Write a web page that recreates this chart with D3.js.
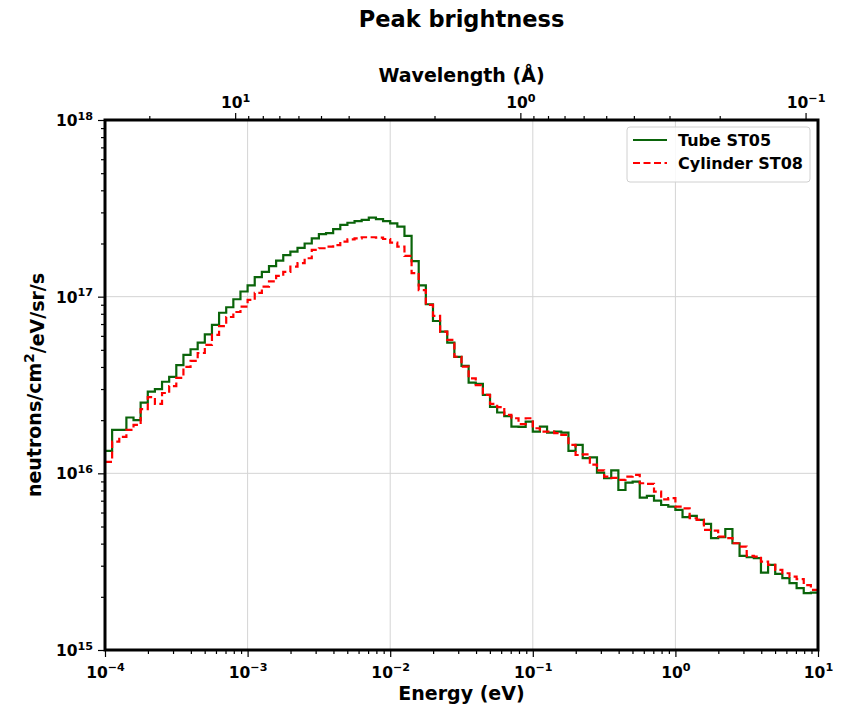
<!DOCTYPE html>
<html>
<head>
<meta charset="utf-8">
<script src="https://cdn.jsdelivr.net/npm/d3@7"></script>
<style>
  body { margin: 0; background: #fff; }
  text { font-family: "DejaVu Sans", sans-serif; font-weight: bold; fill: #000; }
</style>
</head>
<body>
<div id="chart"></div>
<script>
// Energy bins: 20 per decade from 1e-4 to 10 eV
const binsPerDecade = 20;
const eMin = 1e-4, eMax = 10;

// Tube ST05 brightness per bin (neutrons/cm2/eV/sr/s)
const tubeST05 = [
  1.34e16, 1.76e16, 1.76e16, 2.07e16, 2.00e16, 2.51e16, 2.90e16, 3.00e16, 3.30e16, 3.52e16,
  4.10e16, 4.68e16, 5.04e16, 5.50e16, 6.12e16, 6.92e16, 8.11e16, 8.71e16, 9.67e16, 1.07e17,
  1.16e17, 1.29e17, 1.38e17, 1.49e17, 1.60e17, 1.72e17, 1.80e17, 1.89e17, 2.00e17, 2.14e17,
  2.26e17, 2.29e17, 2.41e17, 2.55e17, 2.62e17, 2.68e17, 2.72e17, 2.80e17, 2.75e17, 2.68e17,
  2.60e17, 2.49e17, 2.21e17, 1.59e17, 1.16e17, 9.06e16, 7.28e16, 6.34e16, 5.50e16, 4.56e16,
  4.06e16, 3.26e16, 3.21e16, 2.78e16, 2.38e16, 2.21e16, 2.11e16, 1.84e16, 1.83e16, 1.96e16,
  1.72e16, 1.84e16, 1.70e16, 1.72e16, 1.70e16, 1.34e16, 1.45e16, 1.22e16, 1.23e16, 1.01e16,
  9.38e15, 1.04e16, 8.05e15, 8.86e15, 8.98e15, 7.28e15, 7.45e15, 7.00e15, 6.62e15, 6.48e15,
  6.21e15, 5.65e15, 5.74e15, 5.45e15, 5.18e15, 4.30e15, 4.35e15, 4.84e15, 4.02e15, 3.41e15,
  3.35e15, 3.31e15, 2.74e15, 3.03e15, 2.70e15, 2.55e15, 2.39e15, 2.24e15, 2.10e15, 2.11e15
];

// Cylinder ST08 brightness per bin
const cylinderST08 = [
  1.16e16, 1.51e16, 1.61e16, 1.76e16, 1.88e16, 2.31e16, 2.70e16, 2.47e16, 2.85e16, 3.12e16,
  3.47e16, 4.00e16, 4.33e16, 4.80e16, 5.33e16, 6.07e16, 6.82e16, 7.67e16, 8.19e16, 8.78e16,
  9.58e16, 1.05e17, 1.14e17, 1.22e17, 1.31e17, 1.38e17, 1.48e17, 1.55e17, 1.65e17, 1.84e17,
  1.88e17, 1.92e17, 1.96e17, 2.05e17, 2.11e17, 2.14e17, 2.17e17, 2.17e17, 2.16e17, 2.12e17,
  2.02e17, 1.92e17, 1.70e17, 1.36e17, 1.09e17, 8.98e16, 7.78e16, 6.34e16, 5.69e16, 4.57e16,
  4.02e16, 3.45e16, 3.16e16, 2.78e16, 2.47e16, 2.37e16, 2.14e16, 2.05e16, 1.90e16, 2.05e16,
  1.80e16, 1.72e16, 1.72e16, 1.69e16, 1.65e16, 1.45e16, 1.27e16, 1.28e16, 1.12e16, 1.04e16,
  9.58e15, 9.42e15, 9.18e15, 9.58e15, 9.80e15, 8.79e15, 8.71e15, 7.87e15, 7.13e15, 7.23e15,
  6.48e15, 6.34e15, 5.57e15, 5.45e15, 4.79e15, 4.74e15, 4.38e15, 4.30e15, 4.02e15, 3.85e15,
  3.41e15, 3.38e15, 3.16e15, 3.03e15, 2.84e15, 2.72e15, 2.60e15, 2.52e15, 2.33e15, 2.19e15
];

const seriesNames = ["Tube ST05", "Cylinder ST08"];
const energyTicks = [1e-4, 1e-3, 1e-2, 1e-1, 1, 10];
const brightTicks = [1e15, 1e16, 1e17, 1e18];
const wavelengthTicks = [10, 1, 0.1];

// lambda(A) = 0.28601 / sqrt(E[eV])
const lamOf = e => 0.28601 / Math.sqrt(e);

const W = 856, H = 706;
const margin = { left: 105, right: 38, top: 120, bottom: 56 };

const svg = d3.select('#chart').append('svg')
  .attr('width', W).attr('height', H);

const x = d3.scaleLog().domain([eMin, eMax]).range([margin.left, W - margin.right]);
const y = d3.scaleLog().domain([1e15, 1e18]).range([H - margin.bottom, margin.top]);
const xLam = d3.scaleLog().domain([lamOf(eMin), lamOf(eMax)]).range(x.range());

const x0 = x.range()[0], x1 = x.range()[1];
const y0 = y.range()[0], y1 = y.range()[1];

// minor ticks helper: 2..9 times each decade inside domain
function minorTicks(lo, hi) {
  const out = [];
  const a = Math.min(lo, hi), b = Math.max(lo, hi);
  for (let p = Math.floor(Math.log10(a)) - 1; p <= Math.ceil(Math.log10(b)); p++) {
    for (let m = 2; m <= 9; m++) {
      const v = m * Math.pow(10, p);
      if (v >= a && v <= b) out.push(v);
    }
  }
  return out;
}

// power-of-ten label with superscript
function powLabel(sel, v) {
  const p = Math.round(Math.log10(v));
  sel.text(null);
  sel.append('tspan').text('10');
  sel.append('tspan')
    .attr('dy', '-0.55em')
    .style('font-size', '0.72em')
    .text(p < 0 ? '\u2212' + Math.abs(p) : String(p));
}

// grid
const grid = svg.append('g').attr('stroke', '#d4d4d4').attr('stroke-width', 1);
grid.selectAll('.gx').data(energyTicks.slice(1, -1)).enter().append('line')
  .attr('x1', d => x(d)).attr('x2', d => x(d)).attr('y1', y1).attr('y2', y0);
grid.selectAll('.gy').data(brightTicks.slice(1, -1)).enter().append('line')
  .attr('x1', x0).attr('x2', x1).attr('y1', d => y(d)).attr('y2', d => y(d));

// step lines
const edges = d3.range(tubeST05.length + 1).map(k => eMin * Math.pow(10, k / binsPerDecade));
function stepPoints(vals) {
  const pts = vals.map((v, k) => [edges[k], v]);
  pts.push([edges[vals.length], vals[vals.length - 1]]);
  return pts;
}
const line = d3.line().x(d => x(d[0])).y(d => y(d[1])).curve(d3.curveStepAfter);

svg.append('path').datum(stepPoints(tubeST05))
  .attr('d', line).attr('fill', 'none')
  .attr('stroke', '#0a640a').attr('stroke-width', 2.2);
svg.append('path').datum(stepPoints(cylinderST08))
  .attr('d', line).attr('fill', 'none')
  .attr('stroke', '#ff0000').attr('stroke-width', 2.2)
  .attr('stroke-dasharray', '7,3.5');

// axes
const fs = '15.5px';
const bottomMinor = svg.append('g').attr('transform', `translate(0,${y0})`)
  .call(d3.axisBottom(x).tickValues(minorTicks(eMin, eMax)).tickSize(4).tickFormat(''));
const bottomMajor = svg.append('g').attr('transform', `translate(0,${y0})`)
  .call(d3.axisBottom(x).tickValues(energyTicks).tickSize(7).tickPadding(5));
bottomMajor.selectAll('text').style('font-size', fs).attr('dy', '1em').each(function(d) { powLabel(d3.select(this), d); });

const leftMinor = svg.append('g').attr('transform', `translate(${x0},0)`)
  .call(d3.axisLeft(y).tickValues(minorTicks(1e15, 1e18)).tickSize(4).tickFormat(''));
const leftMajor = svg.append('g').attr('transform', `translate(${x0},0)`)
  .call(d3.axisLeft(y).tickValues(brightTicks).tickSize(7).tickPadding(5));
leftMajor.selectAll('text').style('font-size', fs).attr('dy', '0.35em').each(function(d) { powLabel(d3.select(this), d); });

const topMinor = svg.append('g').attr('transform', `translate(0,${y1})`)
  .call(d3.axisTop(xLam).tickValues(minorTicks(lamOf(eMax), lamOf(eMin))).tickSize(4).tickFormat(''));
const topMajor = svg.append('g').attr('transform', `translate(0,${y1})`)
  .call(d3.axisTop(xLam).tickValues(wavelengthTicks).tickSize(7).tickPadding(5));
topMajor.selectAll('text').style('font-size', fs).each(function(d) { powLabel(d3.select(this), d); });

[bottomMinor, bottomMajor, leftMinor, leftMajor, topMinor, topMajor].forEach(g => {
  g.select('.domain').remove();
  g.selectAll('line').attr('stroke', '#000').attr('stroke-width', 1.2);
  g.selectAll('text').attr('fill', '#000').style('font-family', '"DejaVu Sans", sans-serif').style('font-weight', 'bold');
});

// frame
svg.append('rect')
  .attr('x', x0).attr('y', y1).attr('width', x1 - x0).attr('height', y0 - y1)
  .attr('fill', 'none').attr('stroke', '#000').attr('stroke-width', 3);

// titles
svg.append('text').attr('x', (x0 + x1) / 2).attr('y', 27)
  .attr('text-anchor', 'middle').style('font-size', '22.5px').text('Peak brightness');
svg.append('text').attr('x', (x0 + x1) / 2).attr('y', 82)
  .attr('text-anchor', 'middle').style('font-size', '19px').text('Wavelength (\u00c5)');
svg.append('text').attr('x', (x0 + x1) / 2).attr('y', 700)
  .attr('text-anchor', 'middle').style('font-size', '19px').text('Energy (eV)');

const ylab = svg.append('text')
  .attr('transform', `translate(41,${(y0 + y1) / 2}) rotate(-90)`)
  .attr('text-anchor', 'middle').style('font-size', '19px');
ylab.append('tspan').text('neutrons/cm');
ylab.append('tspan').attr('dy', '-0.5em').style('font-size', '0.72em').text('2');
ylab.append('tspan').attr('dy', '0.5em').text('/eV/sr/s');

// legend
const lg = svg.append('g').attr('transform', `translate(${x1 - 191},127)`);
lg.append('rect').attr('width', 183).attr('height', 55).attr('rx', 3)
  .attr('fill', '#fff').attr('fill-opacity', 0.85).attr('stroke', '#d0d0d0');
const legendStyles = [
  { color: '#0a640a', dash: null },
  { color: '#ff0000', dash: '7,3.5' }
];
seriesNames.forEach((name, i) => {
  const gy = 13 + i * 23;
  lg.append('line').attr('x1', 6).attr('x2', 40).attr('y1', gy).attr('y2', gy)
    .attr('stroke', legendStyles[i].color).attr('stroke-width', 2.2)
    .attr('stroke-dasharray', legendStyles[i].dash);
  lg.append('text').attr('x', 51).attr('y', gy).attr('dy', '0.35em')
    .style('font-size', '16px').text(name);
});
</script>
</body>
</html>
